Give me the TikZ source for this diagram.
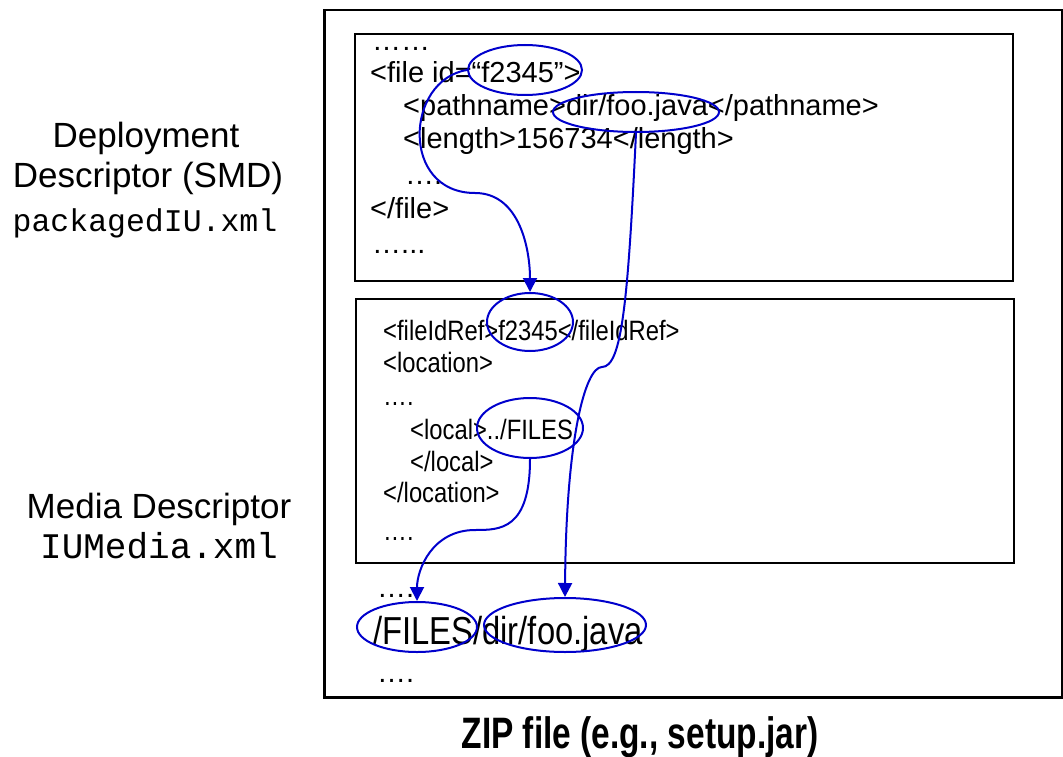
\documentclass[tikz,border=0pt]{standalone}
\usepackage{fontspec}
\setmainfont{Liberation Sans}
\newfontfamily\monof{Liberation Mono}
\usepackage{graphicx}
\usetikzlibrary{shapes.geometric,arrows.meta}
\definecolor{lnkblue}{RGB}{0,0,204}
\newcommand{\nrw}[2]{\scalebox{#1}[1]{#2}}
\begin{document}
\begin{tikzpicture}[x=1pt,y=-1pt,
  box/.style={draw,line width=2pt,anchor=north west,inner sep=0pt},
  tone/.style={anchor=base west,inner sep=0pt,font=\fontsize{29}{33}\selectfont},
  ttwo/.style={anchor=base west,inner sep=0pt,font=\fontsize{28}{31}\selectfont},
  tbig/.style={anchor=base west,inner sep=0pt,font=\fontsize{39}{44}\selectfont},
  lbl/.style={anchor=base,inner sep=0pt,font=\fontsize{35}{40}\selectfont},
  ring/.style={draw=lnkblue,line width=2pt,ellipse,inner sep=0pt},
  link/.style={draw=lnkblue,line width=2pt,-{Triangle[width=14pt,length=14pt]}}
]
\useasboundingbox (0,0) rectangle (1063,757);

% containers
\node[box,line width=2.5pt,minimum width=738pt,minimum height=687pt] (zip) at (323,9) {};
\node[box,minimum width=658pt,minimum height=247pt] (smd) at (354,33) {};
\node[box,minimum width=658pt,minimum height=264pt] (med) at (355,298) {};

% left labels
\node[lbl] (dep1) at (146,147) {Deployment};
\node[lbl] (dep2) at (148,187) {Descriptor (SMD)};
\node[lbl,font=\fontsize{31.5}{36}\monof] (dep3) at (145,231) {packagedIU.xml};
\node[lbl] (md1) at (159,518) {Media Descriptor};
\node[lbl,font=\fontsize{36}{40}\monof] (md2) at (159,558) {IUMedia.xml};

% deployment descriptor text
\node[tone] (s1) at (372,51) {……};
\node[tone] (s2) at (370,83) {<file id=“f2345”>};
\node[tone] (s3) at (403,116) {<pathname>dir/foo.java</pathname>};
\node[tone] (s4) at (403,149) {<length>156734</length>};
\node[tone] (s5) at (405,185) {….};
\node[tone] (s6) at (370,218) {</file>};
\node[tone] (s7) at (372,253) {…...};

% media descriptor text
\node[ttwo] (m1) at (383,340) {\nrw{0.85}{<fileIdRef>f2345</fileIdRef>}};
\node[ttwo] (m2) at (383,372) {\nrw{0.85}{<location>}};
\node[ttwo] (m3) at (383,405) {\nrw{0.85}{….}};
\node[ttwo] (m4) at (410,439) {\nrw{0.85}{<local>../FILES}};
\node[ttwo] (m5) at (410,471) {\nrw{0.85}{</local>}};
\node[ttwo] (m6) at (383,502) {\nrw{0.85}{</location>}};
\node[ttwo] (m7) at (383,540) {\nrw{0.85}{….}};

% zip content
\node[tone] (z1) at (377,597) {….};
\node[tbig] (z2) at (373,644) {\nrw{0.84}{/FILES/dir/foo.java}};
\node[tone] (z3) at (377,682) {….};

% caption
\node[anchor=base,inner sep=0pt,font=\fontsize{44}{48}\selectfont\bfseries] (cap) at (640,748) {\nrw{0.76}{ZIP file (e.g., setup.jar)}};

% rings
\node[ring,minimum width=114pt,minimum height=50pt] (e1) at (525,70) {};
\node[ring,minimum width=166pt,minimum height=40pt] (e2) at (636,112) {};
\node[ring,minimum width=86pt,minimum height=58pt] (e3) at (530,322) {};
\node[ring,minimum width=106pt,minimum height=60pt] (e4) at (530,428) {};
\node[ring,minimum width=120pt,minimum height=50pt] (e5) at (417,627) {};
\node[ring,minimum width=162pt,minimum height=54pt] (e6) at (565,625) {};

% links
\coordinate (k1) at (475,193);
\coordinate (k2) at (602,367);
\coordinate (k3) at (475,530);
\draw[link] (e1.west) .. controls (405,80) and (400,193) .. (k1)
  .. controls (520,193) and (530,250) .. (e3.north);
\draw[link] (e2.south) .. controls (628,300) and (622,367) .. (k2)
  .. controls (585,367) and (566,440) .. (e6.north);
\draw[link] (e4.south) .. controls (530,530) and (500,530) .. (k3)
  .. controls (432,530) and (417,570) .. (e5.north);
\end{tikzpicture}
\end{document}
